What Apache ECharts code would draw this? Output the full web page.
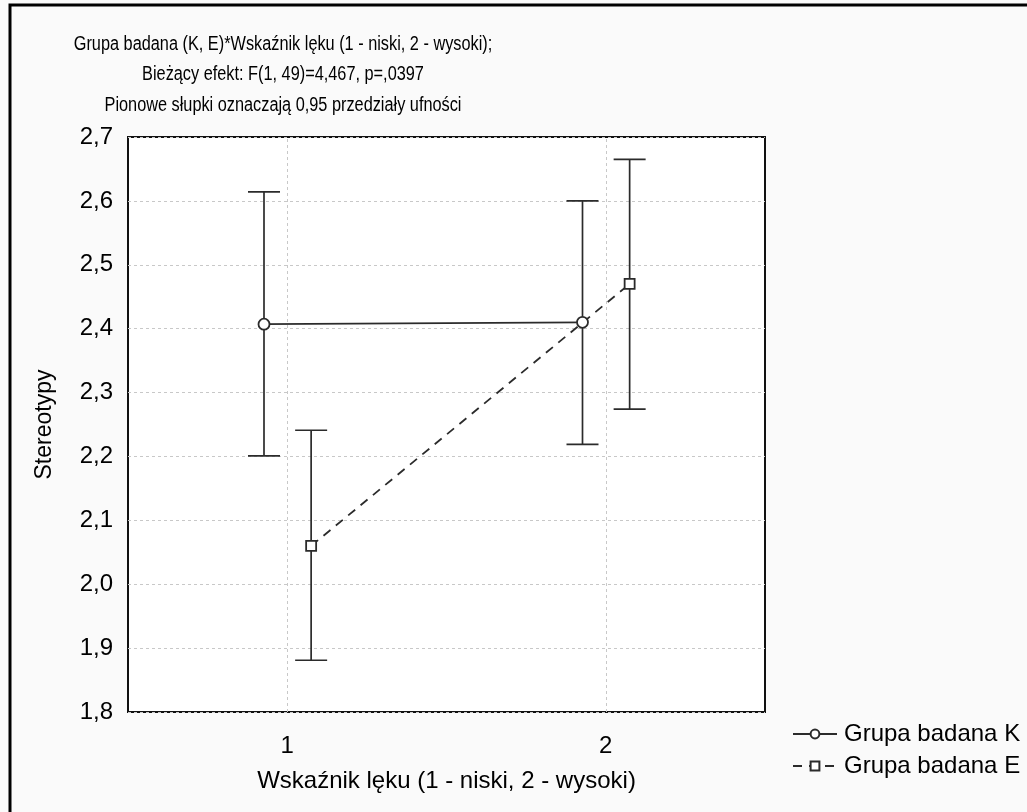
<!DOCTYPE html>
<html>
<head>
<meta charset="utf-8">
<script src="https://cdn.jsdelivr.net/npm/echarts@6/dist/echarts.min.js"></script>
<style>
  html, body { margin: 0; padding: 0; background: #fafafa; }
  #main { width: 1027px; height: 812px; }
</style>
</head>
<body>
<div id="main"></div>
<script>
// poziomy czynnika (Wskaźnik lęku)
const levels = [1, 2];
const seriesNames = ['Grupa badana K', 'Grupa badana E'];

// Grupa K: średnie i 95% przedziały
const kMean = [2.407, 2.410];
const kLow = [2.201, 2.219];
const kHigh = [2.614, 2.600];

// Grupa E
const eMean = [2.060, 2.470];
const eLow = [1.881, 2.274];
const eHigh = [2.241, 2.665];

const titleLines = [
  'Grupa badana (K, E)*Wskaźnik lęku (1 - niski, 2 - wysoki);',
  'Bieżący efekt: F(1, 49)=4,467, p=,0397',
  'Pionowe słupki oznaczają 0,95 przedziały ufności'
];

// przesunięcie grup w poziomie, żeby słupki się nie nakładały
const kShift = -0.073;
const eShift = 0.075;

const FONT = '"Liberation Sans", Arial, Helvetica, sans-serif';
const INK = '#2b2b2b';

function pts(mean, shift) {
  return levels.map((x, i) => [x + shift, mean[i]]);
}
function bars(low, high, shift) {
  return levels.map((x, i) => [x + shift, low[i], high[i]]);
}

function renderErrorBar(params, api) {
  const x = api.value(0);
  const lo = api.coord([x, api.value(1)]);
  const hi = api.coord([x, api.value(2)]);
  const half = 16;
  const style = { stroke: INK, lineWidth: 1.7 };
  return {
    type: 'group',
    children: [
      { type: 'line', shape: { x1: lo[0], y1: lo[1], x2: hi[0], y2: hi[1] }, style: style },
      { type: 'line', shape: { x1: hi[0] - half, y1: hi[1], x2: hi[0] + half, y2: hi[1] }, style: style },
      { type: 'line', shape: { x1: lo[0] - half, y1: lo[1], x2: lo[0] + half, y2: lo[1] }, style: style }
    ]
  };
}

const chart = echarts.init(document.getElementById('main'));

const option = {
  backgroundColor: '#fafafa',
  animation: false,
  textStyle: { fontFamily: FONT, color: '#000' },
  legend: {
    orient: 'vertical',
    left: 787,
    top: 717,
    itemWidth: 44,
    itemHeight: 11,
    itemGap: 8,
    data: seriesNames,
    textStyle: { fontSize: 24, lineHeight: 24, color: '#000', padding: [0, 0, 0, 2] }
  },
  grid: {
    left: 128,
    top: 137,
    right: 262,
    bottom: 100,
    show: true,
    backgroundColor: '#fff',
    borderColor: '#111',
    borderWidth: 2
  },
  xAxis: {
    type: 'value',
    min: 0.5,
    max: 2.5,
    interval: 0.5,
    name: 'Wskaźnik lęku (1 - niski, 2 - wysoki)',
    nameLocation: 'middle',
    nameGap: 57,
    nameTextStyle: { fontSize: 24, color: '#000' },
    axisLine: { show: false },
    axisTick: { show: false },
    splitLine: { show: false },
    axisLabel: {
      fontSize: 24,
      color: '#000',
      margin: 22,
      showMinLabel: false,
      showMaxLabel: false,
      formatter: v => (Number.isInteger(v) ? String(v) : '')
    }
  },
  yAxis: {
    type: 'value',
    min: 1.8,
    max: 2.7,
    interval: 0.1,
    name: 'Stereotypy',
    nameLocation: 'middle',
    nameGap: 72,
    nameTextStyle: { fontSize: 23, color: '#000' },
    axisLine: { show: false },
    axisTick: { show: false },
    splitLine: { show: true, lineStyle: { color: '#c8c8c8', type: [3, 3], width: 1 } },
    axisLabel: {
      fontSize: 24,
      color: '#000',
      margin: 15,
      formatter: v => v.toFixed(1).replace('.', ',')
    }
  },
  series: [
    {
      name: seriesNames[0],
      type: 'line',
      z: 5,
      data: pts(kMean, kShift),
      symbol: 'circle',
      symbolSize: 11,
      lineStyle: { color: INK, width: 1.8, type: 'solid' },
      itemStyle: { color: '#fff', borderColor: INK, borderWidth: 1.8 },
      markLine: {
        silent: true,
        symbol: 'none',
        label: { show: false },
        lineStyle: { color: '#c8c8c8', type: [3, 3], width: 1 },
        data: levels.map(v => ({ xAxis: v }))
      }
    },
    {
      name: seriesNames[1],
      type: 'line',
      z: 5,
      data: pts(eMean, eShift),
      symbol: 'rect',
      symbolSize: 10,
      lineStyle: { color: INK, width: 1.8, type: [9, 7] },
      itemStyle: { color: '#fff', borderColor: INK, borderWidth: 1.8 }
    },
    {
      name: 'ci-K',
      type: 'custom',
      z: 3,
      silent: true,
      renderItem: renderErrorBar,
      encode: { x: 0, y: [1, 2] },
      data: bars(kLow, kHigh, kShift)
    },
    {
      name: 'ci-E',
      type: 'custom',
      z: 3,
      silent: true,
      renderItem: renderErrorBar,
      encode: { x: 0, y: [1, 2] },
      data: bars(eLow, eHigh, eShift)
    }
  ],
  graphic: [
    {
      // ramka wokół całego wykresu (prawa i dolna krawędź poza kadrem)
      type: 'rect',
      silent: true,
      shape: { x: 10, y: 5, width: 2000, height: 2000 },
      style: { fill: 'none', stroke: '#000', lineWidth: 3 }
    },
    {
      // tytuł - wąski krój jak w oryginale
      type: 'text',
      silent: true,
      x: 283,
      y: 29,
      scaleX: 0.815,
      style: {
        text: titleLines.join('\n'),
        font: '20px ' + FONT,
        fill: '#000',
        align: 'center',
        verticalAlign: 'top',
        lineHeight: 30.5
      }
    }
  ]
};

chart.setOption(option);
</script>
</body>
</html>
